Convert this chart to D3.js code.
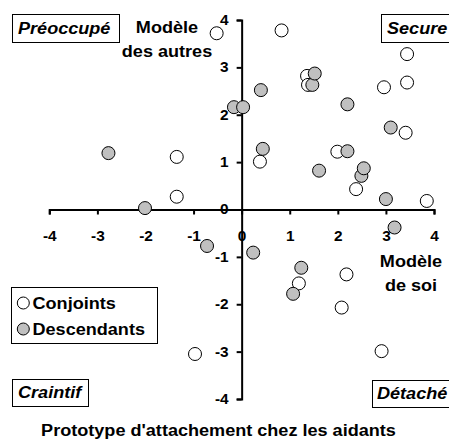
<!DOCTYPE html>
<html>
<head>
<meta charset="utf-8">
<script src="https://cdn.jsdelivr.net/npm/d3@7"></script>
<style>
  body { margin: 0; background: #fff; }
  svg { display: block; }
  text { font-family: "Liberation Sans", Arial, sans-serif; font-weight: bold; fill: #000; }
</style>
</head>
<body>
<div id="chart"></div>
<script>
// values
var ticks = [-4, -3, -2, -1, 0, 1, 2, 3, 4];

var conjointsX = [0.83, 1.36, 1.38, 2.96, 3.44, 3.44, 3.41, 1.99, 0.38, 2.38, 3.85, -0.52, -1.35, -1.35, -0.97, 1.19, 2.18, 2.08, 2.91];
var conjointsY = [3.78, 2.82, 2.63, 2.58, 3.28, 2.68, 1.62, 1.22, 1.01, 0.43, 0.18, 3.72, 1.11, 0.27, -3.05, -1.56, -1.37, -2.07, -2.99];

var descendantsX = [-0.16, 0.03, 0.40, 0.44, 1.47, 1.52, 2.20, 2.20, 1.61, 2.49, 2.54, 3.10, 3.00, -2.77, -2.01, -0.72, 3.18, 0.24, 1.24, 1.07];
var descendantsY = [2.16, 2.16, 2.52, 1.28, 2.63, 2.87, 2.22, 1.23, 0.82, 0.71, 0.87, 1.73, 0.22, 1.19, 0.03, -0.77, -0.38, -0.91, -1.23, -1.78];

var series = [
  { name: "Conjoints", fill: "#ffffff", xs: conjointsX, ys: conjointsY },
  { name: "Descendants", fill: "#c0c0c0", xs: descendantsX, ys: descendantsY }
];

var W = 449, H = 439;
var sx = 1.13; // glyphs in the picture are a bit wide

var svg = d3.select("#chart").append("svg")
  .attr("width", W)
  .attr("height", H);

var x = d3.scaleLinear().domain([-4, 4]).range([49.3, 434]);
var y = d3.scaleLinear().domain([-4, 4]).range([399, 20]);

// stretched text helper
function label(txt, px, py, anchor, size, italic) {
  return svg.append("text")
    .attr("transform", "translate(" + px + "," + py + ") scale(" + sx + ",1)")
    .attr("text-anchor", anchor || "start")
    .style("font-size", (size || 16) + "px")
    .style("font-style", italic ? "italic" : "normal")
    .text(txt);
}

// axes crossing at 0
var xAxis = svg.append("g")
  .attr("transform", "translate(0," + y(0) + ")")
  .call(d3.axisBottom(x).tickValues(ticks).tickSize(5).tickPadding(17).tickFormat(d3.format("d")));

var yAxis = svg.append("g")
  .attr("transform", "translate(" + x(0) + ",0)")
  .call(d3.axisLeft(y).tickValues(ticks).tickSize(5).tickPadding(8).tickFormat(d3.format("d")));

[xAxis, yAxis].forEach(function(a) {
  a.selectAll("path, line").attr("stroke", "#000").attr("stroke-width", 2);
  a.selectAll("text")
    .attr("fill", "#000")
    .style("font-size", "14px")
    .style("font-family", "'Liberation Sans', Arial, sans-serif")
    .style("font-weight", "bold");
});
xAxis.selectAll("text").attr("transform", "scale(1.1,1)");
yAxis.selectAll("text").attr("x", -13 / 1.1).attr("transform", "scale(1.1,1)");
// d3 renders minus as U+2212, keep the plain hyphen like the picture
xAxis.selectAll("text").text(function(d) { return String(d); });
yAxis.selectAll("text").text(function(d) { return String(d); });

// points, conjoints first so descendants sit on top
series.forEach(function(s) {
  svg.append("g").selectAll("circle")
    .data(s.xs.map(function(v, i) { return [v, s.ys[i]]; }))
    .enter().append("circle")
    .attr("cx", function(d) { return x(d[0]); })
    .attr("cy", function(d) { return y(d[1]); })
    .attr("r", 6.5)
    .attr("fill", s.fill)
    .attr("stroke", "#000")
    .attr("stroke-width", 1);
});

// quadrant boxes
var quads = [
  { t: "Préoccupé", bx: 12, by: 14, bw: 107, bh: 28, tx: 18, ty: 33.5 },
  { t: "Secure", bx: 381, by: 14, bw: 75, bh: 28, tx: 387, ty: 33.5 },
  { t: "Craintif", bx: 12, by: 379, bw: 76, bh: 27, tx: 18, ty: 398 },
  { t: "Détaché", bx: 372, by: 380, bw: 84, bh: 27, tx: 377, ty: 398.5 }
];
quads.forEach(function(q) {
  svg.append("rect")
    .attr("x", q.bx + 0.5).attr("y", q.by + 0.5)
    .attr("width", q.bw).attr("height", q.bh)
    .attr("fill", "#fff").attr("stroke", "#000").attr("stroke-width", 1);
  label(q.t, q.tx, q.ty, "start", 16, true);
});

// axis titles
label("Modèle", 167, 33, "middle", 16);
label("des autres", 167, 57, "middle", 16);
label("Modèle", 411, 267, "middle", 16);
label("de soi", 411, 291, "middle", 16);

// legend
svg.append("rect")
  .attr("x", 11.5).attr("y", 287.5)
  .attr("width", 146).attr("height", 56)
  .attr("fill", "#fff").attr("stroke", "#000").attr("stroke-width", 1);
series.forEach(function(s, i) {
  var ly = 303 + i * 26;
  svg.append("circle")
    .attr("cx", 23.3).attr("cy", ly).attr("r", 6)
    .attr("fill", s.fill).attr("stroke", "#000").attr("stroke-width", 1);
  label(s.name, 32.5, ly + 5.5, "start", 16);
});

// title
label("Prototype d'attachement chez les aidants", 218.5, 436, "middle", 16);
</script>
</body>
</html>
